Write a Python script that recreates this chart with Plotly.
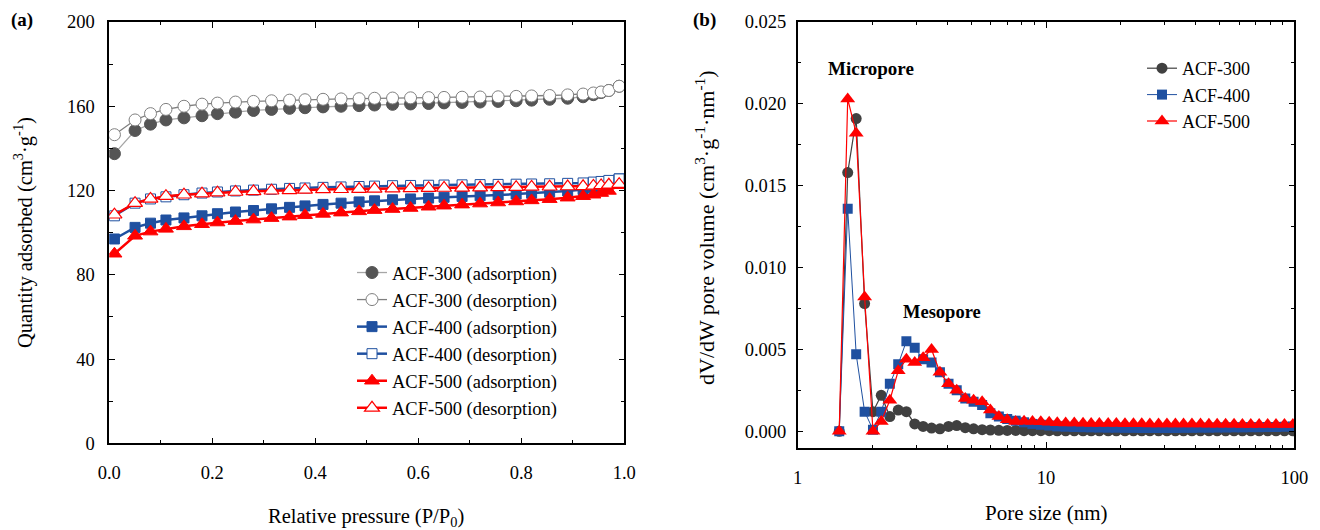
import plotly.graph_objects as go

# ---------------- data: panel (a) isotherms ----------------
rel_pressure = [0.01, 0.05, 0.08, 0.11, 0.145, 0.18, 0.21, 0.245, 0.28, 0.315, 0.35, 0.38,
                0.415, 0.45, 0.485, 0.515, 0.55, 0.585, 0.62, 0.65, 0.685, 0.72, 0.755, 0.79,
                0.82, 0.855, 0.89, 0.92, 0.94, 0.955, 0.97, 0.99]
acf300_ads = [137.5, 148.5, 151.5, 153.5, 154.5, 155.5, 156.5, 157.2, 158, 158.5, 159, 159.3,
              159.7, 160, 160.3, 160.6, 160.9, 161.1, 161.3, 161.6, 161.8, 162, 162.3, 162.6,
              162.9, 163.3, 163.8, 164.5, 165.5, 166.5, 167.5, 169.5]
acf300_des = [146.5, 153.5, 156.5, 158.5, 160, 161, 161.5, 162, 162.3, 162.6, 162.9, 163.1,
              163.3, 163.5, 163.6, 163.8, 163.9, 164, 164.1, 164.2, 164.3, 164.4, 164.5, 164.7,
              164.9, 165.1, 165.4, 165.8, 166.3, 166.8, 167.5, 169.5]
acf400_ads = [97, 102.5, 104.5, 106, 107, 108, 109, 109.8, 110.5, 111.3, 112, 112.7,
              113.4, 114, 114.6, 115.1, 115.6, 116, 116.4, 116.8, 117.2, 117.5, 117.9, 118.3,
              118.7, 119.2, 119.8, 120.5, 121.3, 122.3, 123.5, 125.5]
acf400_des = [108, 114, 116, 117, 118, 118.8, 119.3, 119.8, 120.2, 120.6, 121, 121.2,
              121.5, 121.7, 121.9, 122.1, 122.3, 122.4, 122.5, 122.6, 122.7, 122.8, 122.9, 123,
              123.1, 123.2, 123.4, 123.6, 124, 124.3, 124.8, 125.5]
acf500_ads = [90, 98.5, 100.5, 101.8, 103, 104, 104.8, 105.5, 106.2, 106.9, 107.6, 108.3,
              108.9, 109.5, 110.1, 110.7, 111.2, 111.7, 112.3, 112.8, 113.3, 113.8, 114.3, 114.8,
              115.3, 115.9, 116.6, 117.3, 118, 118.8, 119.8, 122.5]
acf500_des = [108.5, 114, 116, 117.3, 118, 118.5, 119, 119.3, 119.6, 119.9, 120.1, 120.3,
              120.5, 120.6, 120.7, 120.8, 120.9, 121, 121.1, 121.2, 121.3, 121.4, 121.5, 121.6,
              121.7, 121.8, 121.9, 122, 122.2, 122.4, 122.7, 123]

# ---------------- data: panel (b) pore size distribution ----------------
pore_size = [1.47, 1.59, 1.72, 1.86, 2.01, 2.17, 2.35, 2.54, 2.74, 2.96, 3.20, 3.46, 3.74,
             4.05, 4.37, 4.73, 5.11, 5.53, 5.97, 6.46, 6.98, 7.55, 8.16, 8.82, 9.53, 10.3,
             11.1, 12.0, 13.0, 14.1, 15.2, 16.4, 17.8, 19.2, 20.8, 22.5, 24.3, 26.2, 28.4,
             30.7, 33.2, 35.8, 38.7, 41.9, 45.3, 48.9, 52.9, 57.2, 61.8, 66.8, 72.2, 78.1,
             84.4, 91.3, 98.7]
psd_300 = [0, 0.0158, 0.0191, 0.0078, 0.0012, 0.0022, 0.0009, 0.0013, 0.0012, 0.00045, 0.0003,
           0.0002, 0.00015, 0.0003, 0.00035, 0.00022, 0.00015, 0.0001, 0.00008, 0.00006, 0.00005,
           0.00005, 0.00004, 0.00004, 0.00004, 0.00004, 0.00003, 0.00003, 0.00003, 0.00003,
           0.00003, 0.00003, 0.00003, 0.00003, 0.00003, 0.00003, 0.00003, 0.00003, 0.00003,
           0.00003, 0.00003, 0.00003, 0.00003, 0.00003, 0.00003, 0.00003, 0.00003, 0.00003,
           0.00003, 0.00003, 0.00003, 0.00003, 0.00003, 0.00003, 0.00003]
psd_400 = [0, 0.0136, 0.0047, 0.0012, 0.0001, 0.0012, 0.0029, 0.0041, 0.0055, 0.0051, 0.0044,
           0.0042, 0.0036, 0.0029, 0.0025, 0.0020, 0.0018, 0.0016, 0.0011, 0.0009, 0.00075,
           0.00065, 0.00055, 0.00045, 0.0004, 0.00035, 0.0003, 0.00028, 0.00026, 0.00025,
           0.00024, 0.00023, 0.00022, 0.00022, 0.00021, 0.00021, 0.0002, 0.0002, 0.0002, 0.0002,
           0.0002, 0.00021, 0.00021, 0.00022, 0.00022, 0.00023, 0.00023, 0.00024, 0.00024,
           0.00025, 0.00025, 0.00026, 0.00027, 0.00028, 0.0003]
psd_500 = [0, 0.0203, 0.0182, 0.0082, 0, 0.0006, 0.0019, 0.0037, 0.0044, 0.0042, 0.0045,
           0.0050, 0.0036, 0.0029, 0.0025, 0.0020, 0.0019, 0.0018, 0.0013, 0.0009, 0.0007,
           0.0006, 0.00062, 0.0006, 0.00058, 0.00055, 0.00052, 0.0005, 0.0005, 0.00049, 0.00048,
           0.00048, 0.00047, 0.00047, 0.00046, 0.00046, 0.00046, 0.00045, 0.00045, 0.00045,
           0.00044, 0.00044, 0.00044, 0.00044, 0.00043, 0.00043, 0.00043, 0.00043, 0.00042,
           0.00042, 0.00042, 0.00042, 0.00041, 0.00041, 0.00041]

iso_labels = ["ACF-300 (adsorption)", "ACF-300 (desorption)", "ACF-400 (adsorption)",
              "ACF-400 (desorption)", "ACF-500 (adsorption)", "ACF-500 (desorption)"]
psd_labels = ["ACF-300", "ACF-400", "ACF-500"]

FONT = "Liberation Serif, Times New Roman, serif"
GRAY_D = "#555555"
BLUE = "#1F50A0"
RED = "#FF0000"

fig = go.Figure()

iso_series = [
    (acf300_ads, dict(color="#A6A6A6", width=1.3), dict(symbol="circle", size=12, color=GRAY_D, line=dict(color=GRAY_D, width=1))),
    (acf300_des, dict(color="#808080", width=1.3), dict(symbol="circle", size=12, color="white", line=dict(color="#808080", width=1))),
    (acf400_ads, dict(color=BLUE, width=2.5), dict(symbol="square", size=10, color=BLUE, line=dict(color=BLUE, width=1))),
    (acf400_des, dict(color=BLUE, width=2.5), dict(symbol="square", size=10, color="white", line=dict(color=BLUE, width=1))),
    (acf500_ads, dict(color=RED, width=2.5), dict(symbol="triangle-up", size=13, color=RED, line=dict(color=RED, width=1))),
    (acf500_des, dict(color=RED, width=2.5), dict(symbol="triangle-up", size=13, color="white", line=dict(color=RED, width=1.2))),
]
for i, (vals, ln, mk) in enumerate(iso_series):
    fig.add_trace(go.Scatter(x=rel_pressure, y=vals, mode="lines+markers", name=iso_labels[i],
                             line=ln, marker=mk, xaxis="x", yaxis="y", legend="legend"))

psd_series = [
    (psd_300, dict(color="#404040", width=1.2), dict(symbol="circle", size=11, color="#404040")),
    (psd_400, dict(color=BLUE, width=1.0), dict(symbol="square", size=10, color=BLUE)),
    (psd_500, dict(color=RED, width=1.2), dict(symbol="triangle-up", size=13, color=RED)),
]
for i, (vals, ln, mk) in enumerate(psd_series):
    fig.add_trace(go.Scatter(x=pore_size, y=vals, mode="lines+markers", name=psd_labels[i],
                             line=ln, marker=mk, xaxis="x2", yaxis="y2", legend="legend2"))

W, H = 1320, 530
T, B = 22, 82
PH = H - T - B

def px(x):
    return x / W

def py(y):
    return (H - B - y) / PH

TICKFONT = dict(family=FONT, size=18.5, color="black")
axis_common = dict(showline=True, linecolor="black", linewidth=1.5, mirror="allticks",
                   ticks="inside", ticklen=6, tickwidth=1.3, tickcolor="black",
                   showgrid=False, zeroline=False, automargin=False, tickfont=TICKFONT)
minor_common = dict(ticks="inside", ticklen=3.5, tickwidth=1.2, tickcolor="black")

fig.update_layout(
    template="none",
    width=W, height=H, autosize=False,
    margin=dict(l=0, r=0, t=T, b=B, pad=0),
    paper_bgcolor="white", plot_bgcolor="white",
    font=dict(family=FONT, color="black"),
    xaxis=dict(domain=[px(109.3), px(624.3)], anchor="y", range=[0, 1.0],
               tickvals=[0, 0.2, 0.4, 0.6, 0.8, 1.0], tickformat=".1f",
               minor=dict(tickvals=[0.1, 0.3, 0.5, 0.7, 0.9], **minor_common),
               ticklabelstandoff=12, **axis_common),
    yaxis=dict(domain=[py(443.3), 1], anchor="x", range=[0, 200],
               tickvals=[0, 40, 80, 120, 160, 200],
               minor=dict(tickvals=[20, 60, 100, 140, 180], **minor_common),
               ticklabelstandoff=9, **axis_common),
    xaxis2=dict(domain=[px(797.7), px(1294.3)], anchor="y2", type="log", range=[0, 2],
                tickvals=[1, 10, 100], ticktext=["1", "10", "100"],
                minor=dict(tickvals=[2, 3, 4, 5, 6, 7, 8, 9, 20, 30, 40, 50, 60, 70, 80, 90],
                           **minor_common),
                ticklabelstandoff=12, **axis_common),
    yaxis2=dict(domain=[0, 1], anchor="x2", range=[-0.00102, 0.025],
                tickvals=[0, 0.005, 0.010, 0.015, 0.020, 0.025], tickformat=".3f",
                minor=dict(tickvals=[0.0025, 0.0075, 0.0125, 0.0175, 0.0225], **minor_common),
                ticklabelstandoff=6, **axis_common),
    legend=dict(x=px(352), y=py(254), xanchor="left", yanchor="top",
                bgcolor="rgba(0,0,0,0)", borderwidth=0,
                font=dict(family=FONT, size=18.5, color="black")),
    legend2=dict(x=px(1142), y=py(50), xanchor="left", yanchor="top",
                 bgcolor="rgba(0,0,0,0)", borderwidth=0,
                 font=dict(family=FONT, size=18, color="black")),
    showlegend=True,
)

ann = []
def add_text(text, x, y, size, bold=False, angle=0):
    t = "<b>%s</b>" % text if bold else text
    ann.append(dict(text=t, x=px(x), y=py(y), xref="paper", yref="paper", showarrow=False,
                    xanchor="center", yanchor="middle", textangle=angle,
                    font=dict(family=FONT, size=size, color="black")))

add_text("(a)", 22, 20, 19, bold=True)
add_text("(b)", 704, 20, 19, bold=True)
add_text("Quantity adsorbed (cm<sup>3</sup>·g<sup>-1</sup>)", 23, 233, 20.5, angle=-90)
add_text("dV/dW pore volume (cm<sup>3</sup>·g<sup>-1</sup>·nm<sup>-1</sup>)", 705, 228, 22, angle=-90)
add_text("Relative pressure (P/P<sub>0</sub>)", 366, 517, 20.5)
add_text("Pore size (nm)", 1046, 513, 21)
add_text("Micropore", 871, 68, 19, bold=True)
add_text("Mesopore", 942, 312, 18.5, bold=True)
fig.update_layout(annotations=ann)

fig.write_html("out.html", config={"displayModeBar": False},
               post_script="document.body.style.margin='0';")
